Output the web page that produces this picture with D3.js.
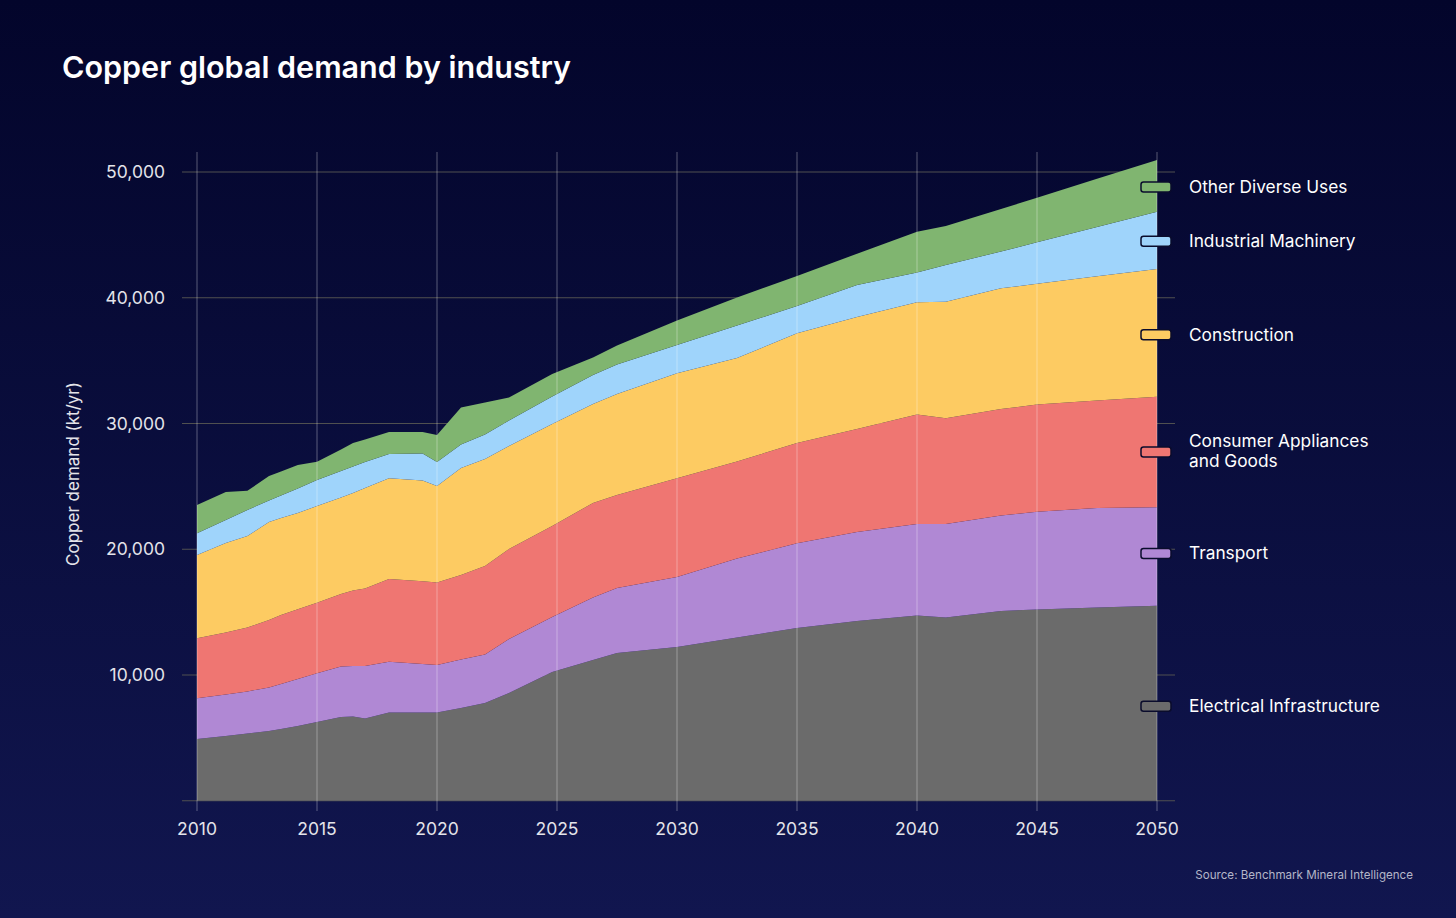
<!DOCTYPE html>
<html>
<head>
<meta charset="utf-8">
<script src="https://cdn.jsdelivr.net/npm/d3@7"></script>
<style>
  html, body { margin: 0; padding: 0; }
  body { width: 1456px; height: 918px; overflow: hidden; font-family: Inter, "Noto Sans", sans-serif; }
</style>
</head>
<body>
<script>
// years (data points are not evenly spaced in the source)
var years = [2010, 2011.2, 2012.1, 2013, 2013.5, 2014.2, 2015, 2016, 2016.5, 2017, 2018, 2019.4, 2020,
  2021, 2022, 2023, 2024.8, 2026.5, 2027.5, 2030, 2032.5, 2035, 2037.5, 2040, 2041.2, 2043.5, 2045, 2047.5, 2050];

// demand in kt/yr per industry
var electrical = [4910, 5150, 5350, 5550, 5710, 5940, 6260, 6660, 6700, 6540, 7020, 7020, 7020,
  7380, 7770, 8570, 10240, 11190, 11750, 12230, 12980, 13740, 14290, 14730, 14570, 15090, 15210, 15370, 15510];
var transport = [3240, 3300, 3340, 3460, 3570, 3740, 3880, 4020, 4020, 4180, 4040, 3850, 3780,
  3850, 3860, 4290, 4370, 4970, 5170, 5560, 6280, 6730, 7080, 7280, 7440, 7590, 7780, 7910, 7830];
var consumer = [4770, 4930, 5090, 5360, 5490, 5540, 5610, 5760, 6000, 6160, 6570, 6580, 6560,
  6720, 7040, 7160, 7240, 7520, 7390, 7850, 7720, 7980, 8190, 8710, 8400, 8470, 8520, 8550, 8790];
var construction = [6620, 7120, 7270, 7800, 7720, 7660, 7690, 7680, 7750, 7990, 8010, 8020, 7670,
  8510, 8510, 8190, 8110, 7870, 8040, 8350, 8230, 8720, 8910, 8920, 9280, 9600, 9600, 9870, 10160];
var machinery = [1730, 1830, 2070, 1710, 1780, 1950, 2070, 2100, 2110, 2070, 1930, 2140, 1910,
  1870, 1950, 2030, 2190, 2310, 2340, 2250, 2580, 2170, 2540, 2370, 2910, 2930, 3300, 3930, 4550];
var other = [2250, 2220, 1530, 1940, 1910, 1870, 1450, 1710, 1870, 1790, 1750, 1710, 2150,
  2940, 2540, 1830, 1790, 1390, 1510, 1950, 2230, 2390, 2490, 3240, 3110, 3380, 3550, 3830, 4110];

var seriesNames = ["Electrical Infrastructure", "Transport", "Consumer Appliances and Goods",
  "Construction", "Industrial Machinery", "Other Diverse Uses"];
var seriesKeys = ["electrical", "transport", "consumer", "construction", "machinery", "other"];
var seriesColors = ["#6b6b6b", "#b088d4", "#ef7672", "#fdcb62", "#9fd4fb", "#80b570"];
// small nudges so legend labels sit where the source put them
var legendNudge = [3, -3, 0, 2, 1, 1];

var xTicks = [2010, 2015, 2020, 2025, 2030, 2035, 2040, 2045, 2050];
var yTicks = [10000, 20000, 30000, 40000, 50000];

var width = 1456, height = 918;
var left = 197, right = 1157, bottom = 800.75;

var rows = years.map(function(yr, i) {
  return {
    year: yr,
    electrical: electrical[i],
    transport: transport[i],
    consumer: consumer[i],
    construction: construction[i],
    machinery: machinery[i],
    other: other[i]
  };
});

var svg = d3.select("body").append("svg")
  .attr("width", width)
  .attr("height", height);

var defs = svg.append("defs");
var grad = defs.append("linearGradient")
  .attr("id", "bg")
  .attr("x1", 0).attr("y1", 0).attr("x2", 0).attr("y2", 1);
grad.append("stop").attr("offset", "0%").attr("stop-color", "#03052b");
grad.append("stop").attr("offset", "100%").attr("stop-color", "#11164f");

svg.append("rect")
  .attr("width", width)
  .attr("height", height)
  .attr("fill", "url(#bg)");

var x = d3.scaleLinear().domain([2010, 2050]).range([left, right]);
var y = d3.scaleLinear().domain([0, 50000]).range([bottom, 172]);

// title
svg.append("text")
  .attr("x", 62)
  .attr("y", 78)
  .attr("fill", "#ffffff")
  .attr("font-size", 30.5)
  .attr("font-weight", 600)
  .text("Copper global demand by industry");

// horizontal grid (behind areas)
svg.append("g")
  .selectAll("line")
  .data(yTicks)
  .enter().append("line")
  .attr("x1", 182)
  .attr("x2", 1175)
  .attr("y1", function(d) { return y(d); })
  .attr("y2", function(d) { return y(d); })
  .attr("stroke", "#505050")
  .attr("stroke-width", 1.2);

// baseline
svg.append("line")
  .attr("x1", 182).attr("x2", 1175)
  .attr("y1", bottom).attr("y2", bottom)
  .attr("stroke", "#505050")
  .attr("stroke-width", 1.2);

var stack = d3.stack().keys(seriesKeys);
var layers = stack(rows);

var area = d3.area()
  .x(function(d) { return x(d.data.year); })
  .y0(function(d) { return y(d[0]); })
  .y1(function(d) { return y(d[1]); });

svg.append("g")
  .selectAll("path")
  .data(layers)
  .enter().append("path")
  .attr("d", area)
  .attr("fill", function(d, i) { return seriesColors[i]; });

// vertical grid drawn over the areas
svg.append("g")
  .selectAll("line")
  .data(xTicks)
  .enter().append("line")
  .attr("x1", function(d) { return x(d); })
  .attr("x2", function(d) { return x(d); })
  .attr("y1", 152)
  .attr("y2", 811)
  .attr("stroke", "#ffffff")
  .attr("stroke-opacity", 0.28)
  .attr("stroke-width", 1.2);

// x tick labels
svg.append("g")
  .selectAll("text")
  .data(xTicks)
  .enter().append("text")
  .attr("x", function(d) { return x(d); })
  .attr("y", 835)
  .attr("text-anchor", "middle")
  .attr("fill", "#e4e4ea")
  .attr("font-size", 17.5)
  .text(function(d) { return d; });

// y tick labels
svg.append("g")
  .selectAll("text")
  .data(yTicks)
  .enter().append("text")
  .attr("x", 165)
  .attr("y", function(d) { return y(d) + 6; })
  .attr("text-anchor", "end")
  .attr("fill", "#e4e4ea")
  .attr("font-size", 17.5)
  .text(function(d) { return d3.format(",")(d); });

svg.append("text")
  .attr("transform", "translate(79,474) rotate(-90)")
  .attr("text-anchor", "middle")
  .attr("fill", "#e4e4ea")
  .attr("font-size", 17)
  .text("Copper demand (kt/yr)");

// legend next to the last point of each layer
var legend = svg.append("g")
  .selectAll("g")
  .data(layers)
  .enter().append("g")
  .attr("transform", function(d, i) {
    var last = d[d.length - 1];
    return "translate(0," + (y((last[0] + last[1]) / 2) + legendNudge[i]) + ")";
  });

legend.append("rect")
  .attr("x", 1141)
  .attr("y", -5)
  .attr("width", 30)
  .attr("height", 10)
  .attr("rx", 2.5)
  .attr("fill", function(d, i) { return seriesColors[i]; })
  .attr("stroke", "#0a0c2c")
  .attr("stroke-width", 1.5);

legend.each(function(d, i) {
  var g = d3.select(this);
  var name = seriesNames[i];
  var lines = name === "Consumer Appliances and Goods" ? ["Consumer Appliances", "and Goods"] : [name];
  var t = g.append("text")
    .attr("x", 1189)
    .attr("fill", "#ffffff")
    .attr("font-size", 17.3);
  lines.forEach(function(l, j) {
    t.append("tspan")
      .attr("x", 1189)
      .attr("y", lines.length === 1 ? 6 : -5 + j * 20)
      .text(l);
  });
});

svg.append("text")
  .attr("x", 1413)
  .attr("y", 879)
  .attr("text-anchor", "end")
  .attr("fill", "#b4b6c8")
  .attr("font-size", 11.6)
  .text("Source: Benchmark Mineral Intelligence");
</script>
</body>
</html>
